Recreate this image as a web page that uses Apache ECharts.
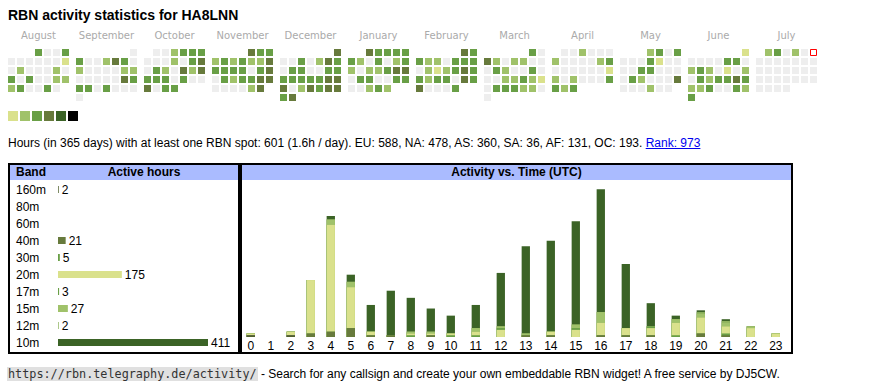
<!DOCTYPE html>
<html><head><meta charset="utf-8">
<script src="https://cdn.jsdelivr.net/npm/echarts@6/dist/echarts.min.js"></script>
<style>
body{margin:0;background:#fff;font-family:Arial,'Liberation Sans',sans-serif;color:#000;}
#chart{position:absolute;left:0;top:0;width:870px;height:390px;z-index:0;}
.ov{position:absolute;z-index:2;white-space:nowrap;}
#title{left:8px;top:7px;font-size:14px;font-weight:bold;line-height:16px;}
#desc{left:8px;top:136px;font-size:12px;line-height:14px;}
#desc a{color:#00e;text-decoration:underline;}
.box{position:absolute;border:2px solid #000;z-index:1;pointer-events:none;}
#box1{left:8px;top:163px;width:228px;height:187px;}
#box2{left:240px;top:163px;width:549px;height:187px;}
.hdr{position:absolute;left:0;top:0;right:0;height:15px;background:#aabbff;font-weight:bold;font-size:12px;line-height:15px;}
.hdr span{position:absolute;top:0;}
#footer{left:7px;top:366px;font-size:12px;line-height:16px;}
#footer code{font-family:'DejaVu Sans Mono','Liberation Mono',monospace;font-size:11.8px;background:#e0e0e0;color:#333;padding:0 1px;}
</style></head>
<body>
<div id="chart"></div>
<div class="ov" id="title">RBN activity statistics for HA8LNN</div>
<div class="ov" id="desc">Hours (in 365 days) with at least one RBN spot: 601 (1.6h / day). EU: 588, NA: 478, AS: 360, SA: 36, AF: 131, OC: 193. <a href="#">Rank: 973</a></div>
<div class="box" id="box1"><div class="hdr"><span style="left:6px">Band</span><span style="left:134px;transform:translateX(-50%)">Active hours</span></div></div>
<div class="box" id="box2"><div class="hdr" style="text-align:center">Activity vs. Time (UTC)</div></div>
<div class="ov" id="footer"><code>https://rbn.telegraphy.de/activity/</code> - Search for any callsign and create your own embeddable RBN widget! A free service by DJ5CW.</div>
<script>
// ---- calendar data (activity level per day: 0 none, 1..5) ----
const monthKeys = ['2024-08','2024-09','2024-10','2024-11','2024-12','2025-01','2025-02','2025-03','2025-04','2025-05','2025-06','2025-07'];
const monthNames = ['August','September','October','November','December','January','February','March','April','May','June','July'];
const aug2024 = [3,0,0,3, 0,0,0,0,0,0,1, 0,2,0,0,0,2,0, 3,0,3,0,0,2,2, 2,3,0,0,3,0];
const sep2024 = [0, 3,0,0,2,4,3,0, 2,0,0,0,0,2,2, 0,0,0,0,0,4,3, 3,3,0,3,0,0,0, 0];
const oct2024 = [0,0,2,3,3,3, 0,0,0,2,0,3,4, 0,3,2,0,4,2,4, 3,3,3,0,3,0,0, 4,0,3,3];
const nov2024 = [4,3,3, 2,3,2,3,2,2,4, 3,3,3,3,0,3,4, 0,3,2,3,3,4,4, 0,0,0,0,2,4];
const dec2024 = [4, 0,0,3,0,2,4,3, 0,3,3,0,0,3,3, 3,3,3,3,3,4,4, 4,0,2,4,3,4,4, 3,4];
const jan2025 = [4,3,3,3,3, 3,2,0,3,0,2,3, 2,0,2,2,3,4,4, 0,3,3,0,0,3,3, 0,0,2,3,2];
const feb2025 = [4,3, 3,2,2,0,3,3,3, 0,2,1,2,3,4,3, 3,2,3,3,0,4,3, 4,0,0,0,3];
const mar2025 = [3,0, 4,2,0,2,2,0,0, 0,3,2,0,0,3,0, 0,0,2,2,3,2,1, 0,3,3,3,2,2,0, 0];
const apr2025 = [0,0,2,0,0,0, 2,0,0,0,0,2,3, 0,0,0,0,0,0,1, 2,0,2,0,0,0,3, 3,2,3];
const may2025 = [2,3,0,3, 0,0,0,3,1,0,0, 0,0,3,3,0,0,0, 0,3,2,0,0,0,4, 0,0,0,2,0,0];
const jun2025 = [1, 0,0,0,0,3,3,0, 2,3,2,0,1,0,2, 0,3,2,3,3,4,3, 2,2,3,0,0,3,2, 3];
const jul2025 = [2,3,0,2,0,0, 0,0,0,0,0,0,0, 0,0,0,0,0,0,0, 0,0,0,0,0,0,0, 0,0,0,0];
const todayDate = '2025-07-06';
const levelColors = ['#dae18c','#a0c26a','#699f46','#677a3c','#3b6326','#000000'];
const emptyColor = '#eeeeee';

// ---- band table ----
const bands = ['160m','80m','60m','40m','30m','20m','17m','15m','12m','10m'];
const bandHours = [2,0,0,21,5,175,3,27,2,411];
const bandColors = ['#4f5f2c','#888888','#888888','#677a3c','#699f46','#dae18c','#699f46','#a0c26a','#8fb35e','#3b6326'];

// ---- activity vs time (hours 0..23, per band) ----
const hourLabels = ['0','1','2','3','4','5','6','7','8','9','10','11','12','13','14','15','16','17','18','19','20','21','22','23'];
const h160m = [1,0,1,0,0,0,0,0,0,0,0,0,0,0,0,0,0,0,0,0,0,0,0,0];
const h80m  = [0,0,0,0,0,0,0,0,0,0,0,0,0,0,0,0,0,0,0,0,0,0,0,0];
const h60m  = [0,0,0,0,0,0,0,0,0,0,0,0,0,0,0,0,0,0,0,0,0,0,0,0];
const h40m  = [0,0,0,2,3,5,1,1,0,1,0,0,0,1,1,0,1,1,1,0,2,1,0,0];
const h30m  = [0,0,0,0,0,0,0,0,1,0,1,1,0,0,0,0,0,0,0,1,0,1,0,0];
const h20m  = [1,0,2,30,60,23,2,0,1,1,1,2,4,0,2,4,7,4,4,7,9,4,5,2];
const h17m  = [0,0,0,0,0,0,0,0,0,0,0,0,1,0,0,1,0,0,1,0,0,0,0,0];
const h15m  = [0,0,0,0,3,3,0,0,1,1,0,2,1,1,0,2,6,0,0,2,2,2,1,0];
const h12m  = [0,0,0,0,0,0,0,0,0,0,0,0,0,0,0,0,0,0,0,0,1,1,0,0];
const h10m  = [0,0,0,0,2,4,15,25,19,13,10,13,30,49,51,58,69,36,13,2,1,1,0,0];

const monthLevels = [aug2024,sep2024,oct2024,nov2024,dec2024,jan2025,feb2025,mar2025,apr2025,may2025,jun2025,jul2025];
const hourlyByBand = [h160m,h80m,h60m,h40m,h30m,h20m,h17m,h15m,h12m,h10m];

// column positions like the table: width grows with label length
const hourX = []; (function(){let acc=0; hourLabels.forEach(l=>{hourX.push(acc); acc += 15 + 5*l.length;});})();

const chart = echarts.init(document.getElementById('chart'), null, {renderer:'svg'});

const calendars = monthKeys.map((m,i)=>({
  orient:'vertical', range:m, cellSize:[9,9], left:7+68*i, top:48,
  dayLabel:{show:false, firstDay:1}, monthLabel:{show:false}, yearLabel:{show:false},
  splitLine:{show:false}, itemStyle:{color:'transparent', borderWidth:0}
}));

const series = [];
monthLevels.forEach((arr,i)=>{
  series.push({
    type:'scatter', coordinateSystem:'calendar', calendarIndex:i, symbol:'rect', symbolSize:7,
    itemStyle:{opacity:1}, silent:true,
    data: arr.map((v,d)=>[monthKeys[i]+'-'+String(d+1).padStart(2,'0'), v])
  });
});
const calSeriesIdx = monthLevels.map((_,i)=>i);
series.push({
  type:'scatter', coordinateSystem:'calendar', calendarIndex:11, symbol:'rect', symbolSize:6, silent:true,
  itemStyle:{color:'#ffffff', borderColor:'#ff0000', borderWidth:1, opacity:1},
  data:[[todayDate, 0]]
});

// band table bars
series.push({
  type:'bar', xAxisIndex:0, yAxisIndex:0, barWidth:7, silent:true,
  data: bandHours.map((v,i)=>({value:v, itemStyle:{color:bandColors[i]}})),
  label:{show:true, position:'right', distance:3, fontSize:12, color:'#000',
    formatter:p=> p.value>0 ? String(p.value) : ''}
});

// activity bars: stacked bottom (160m) to top (10m), drawn top band first
const cum = []; let run = hourLabels.map(()=>0);
hourlyByBand.forEach((arr,k)=>{ run = run.map((s,h)=>s+arr[h]); cum.push(run.slice()); });
for (let k = bands.length-1; k >= 0; k--) {
  series.push({
    type:'bar', name:bands[k], xAxisIndex:1, yAxisIndex:1, barWidth:8.3, barGap:'-100%', silent:true,
    itemStyle:{color:bandColors[k]},
    data: cum[k].map((v,h)=>[hourX[h], v])
  });
}

chart.setOption({
  animation:false,
  textStyle:{fontFamily:"Arial, 'Liberation Sans', sans-serif"},
  calendar: calendars,
  visualMap:{
    type:'piecewise', seriesIndex:calSeriesIdx, orient:'horizontal', left:8, top:111, padding:0,
    itemWidth:10, itemHeight:10, itemGap:2, itemSymbol:'rect', showLabel:false,
    pieces: levelColors.map((c,i)=>({value:i+1, color:c})),
    outOfRange:{color:emptyColor}, selectedMode:false, hoverLink:false
  },
  graphic: monthNames.map((n,i)=>({
    type:'text', x:38.5+68*i, y:35, silent:true,
    style:{text:n, fill:'#aaaaaa', fontSize:10, fontFamily:"'DejaVu Sans', Verdana, sans-serif", align:'center', verticalAlign:'middle'}
  })),
  grid:[
    {left:58, width:150, top:181, height:170},
    {left:240.8, width:545, top:175, height:162}
  ],
  xAxis:[
    {gridIndex:0, type:'value', min:0, max:'dataMax', show:false},
    {gridIndex:1, type:'value', min:-10, max:535, axisLine:{show:false}, axisTick:{show:false}, splitLine:{show:false},
     axisLabel:{customValues:hourX, formatter:v=>hourLabels[hourX.indexOf(v)], fontSize:12, color:'#000', margin:3}}
  ],
  yAxis:[
    {gridIndex:0, type:'category', data:bands, inverse:true, axisLine:{show:false}, axisTick:{show:false}, splitLine:{show:false},
     axisLabel:{align:'left', margin:42, fontSize:12, color:'#000'}},
    {gridIndex:1, type:'value', min:0, max:91, show:false}
  ],
  series: series
});
</script>
</body></html>
